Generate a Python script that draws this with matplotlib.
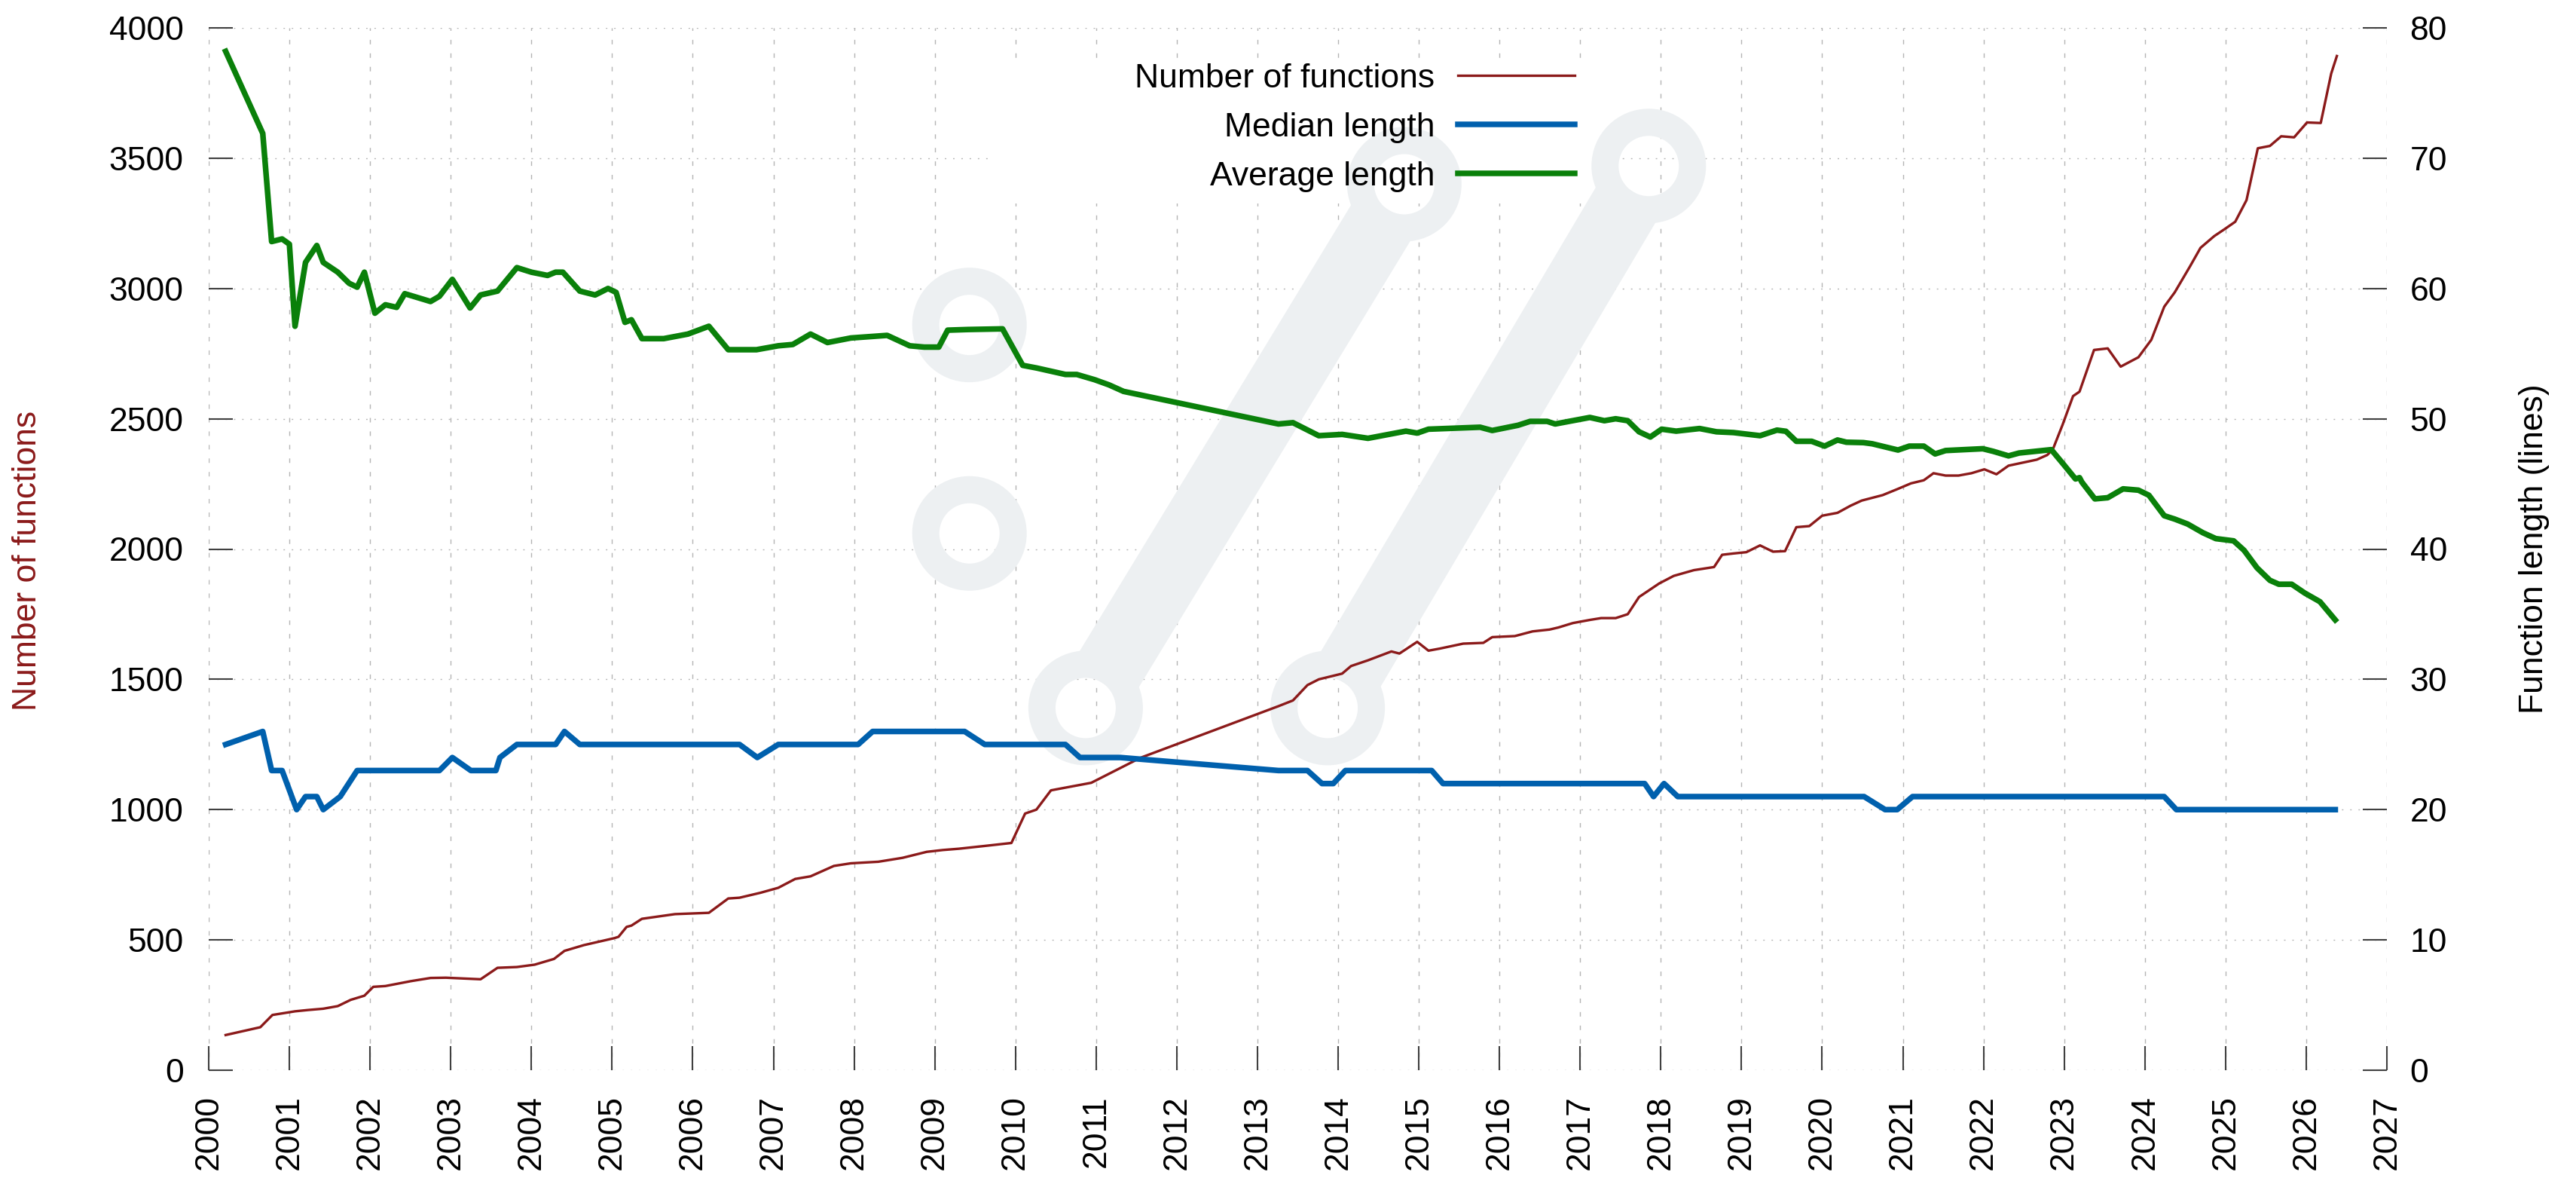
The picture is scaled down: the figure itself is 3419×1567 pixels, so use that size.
import numpy as np
import matplotlib
matplotlib.use("Agg")
import matplotlib.pyplot as plt
from matplotlib.patches import Circle, Rectangle
from matplotlib.lines import Line2D
from matplotlib.transforms import IdentityTransform

plt.rcParams['font.family'] = ['Liberation Sans', 'DejaVu Sans']

# ---------------- data ----------------
years_funcs = [2000.21, 2000.64, 2000.79, 2001.07, 2001.23, 2001.42, 2001.60, 2001.76, 2001.93,
               2002.04, 2002.19, 2002.51, 2002.75, 2002.94, 2003.37, 2003.58, 2003.82, 2004.04,
               2004.28, 2004.41, 2004.65, 2005.03, 2005.08, 2005.18, 2005.24, 2005.37, 2005.78,
               2006.20, 2006.44, 2006.58, 2006.84, 2007.06, 2007.27, 2007.46, 2007.75, 2007.96,
               2008.30, 2008.60, 2008.90, 2009.10, 2009.30, 2009.60, 2009.95, 2010.12, 2010.26,
               2010.44, 2010.94, 2011.55, 2013.26, 2013.44, 2013.62, 2013.76, 2014.05, 2014.16,
               2014.37, 2014.66, 2014.76, 2014.98, 2015.12, 2015.26, 2015.55, 2015.80, 2015.91,
               2016.19, 2016.41, 2016.62, 2016.73, 2016.91, 2017.12, 2017.26, 2017.44, 2017.59,
               2017.73, 2017.98, 2018.16, 2018.41, 2018.66, 2018.76, 2018.90, 2019.06, 2019.23,
               2019.39, 2019.54, 2019.68, 2019.84, 2020.00, 2020.19, 2020.35, 2020.49, 2020.75,
               2020.94, 2021.10, 2021.26, 2021.38, 2021.53, 2021.69, 2021.85, 2022.01, 2022.16,
               2022.31, 2022.66, 2022.79, 2022.86, 2022.98, 2023.11, 2023.19, 2023.37, 2023.54,
               2023.70, 2023.92, 2024.08, 2024.24, 2024.37, 2024.56, 2024.69, 2024.86, 2024.99,
               2025.12, 2025.26, 2025.40, 2025.55, 2025.69, 2025.85, 2026.01, 2026.18, 2026.31,
               2026.38]
num_functions = [135, 165, 212, 226, 231, 236, 246, 270, 286,
                 320, 323, 342, 354, 355, 349, 393, 396, 405,
                 427, 458, 480, 507, 512, 550, 555, 581, 599,
                 604, 659, 662, 681, 700, 734, 744, 784, 794,
                 800, 815, 838, 845, 850, 860, 872, 985, 1000,
                 1074, 1103, 1199, 1397, 1419, 1478, 1500, 1522, 1551,
                 1573, 1607, 1599, 1644, 1610, 1618, 1637, 1640, 1662,
                 1666, 1684, 1691, 1699, 1716, 1728, 1735, 1735, 1750,
                 1816, 1868, 1897, 1919, 1931, 1978, 1983, 1988, 2014,
                 1990, 1992, 2084, 2088, 2128, 2139, 2166, 2186, 2207,
                 2231, 2252, 2264, 2291, 2282, 2282, 2291, 2306, 2287,
                 2320, 2343, 2361, 2383, 2477, 2587, 2604, 2764, 2770,
                 2700, 2736, 2803, 2930, 2985, 3085, 3156, 3201, 3228,
                 3256, 3339, 3538, 3547, 3584, 3580, 3637, 3635, 3825,
                 3892]

years_median = [2000.21, 2000.67, 2000.78, 2000.91, 2001.09, 2001.20, 2001.34, 2001.42, 2001.63,
                2001.84, 2002.86, 2003.02, 2003.25, 2003.56, 2003.61, 2003.82, 2004.30, 2004.41,
                2004.60, 2006.58, 2006.80, 2007.06, 2008.05, 2008.23, 2009.37, 2009.62, 2010.62,
                2010.80, 2011.30, 2013.26, 2013.62, 2013.80, 2013.94, 2014.09, 2015.16, 2015.30,
                2017.80, 2017.91, 2018.04, 2018.21, 2020.52, 2020.78, 2020.93, 2021.12, 2024.24,
                2024.39, 2026.36]
median_length = [25, 26, 23, 23, 20, 21, 21, 20, 21,
                 23, 23, 24, 23, 23, 24, 25, 25, 26,
                 25, 25, 24, 25, 25, 26, 26, 25, 25,
                 24, 24, 23, 23, 22, 22, 23, 23, 22,
                 22, 21, 22, 21, 21, 20, 20, 21, 21,
                 20, 20]

years_average = [2000.21, 2000.67, 2000.78, 2000.91, 2001.00, 2001.07, 2001.20, 2001.34, 2001.42,
                 2001.60, 2001.74, 2001.84, 2001.93, 2002.06, 2002.19, 2002.33, 2002.43, 2002.75,
                 2002.86, 2003.02, 2003.24, 2003.37, 2003.58, 2003.82, 2004.00, 2004.20, 2004.30,
                 2004.39, 2004.60, 2004.79, 2004.95, 2005.05, 2005.16, 2005.24, 2005.37, 2005.64,
                 2005.94, 2006.20, 2006.44, 2006.79, 2007.06, 2007.24, 2007.46, 2007.67, 2007.96,
                 2008.19, 2008.41, 2008.69, 2008.87, 2009.05, 2009.16, 2009.41, 2009.84, 2010.09,
                 2010.26, 2010.62, 2010.76, 2010.98, 2011.16, 2011.34, 2013.26, 2013.44, 2013.76,
                 2014.05, 2014.37, 2014.84, 2014.98, 2015.12, 2015.76, 2015.91, 2016.23, 2016.38,
                 2016.59, 2016.69, 2017.12, 2017.30, 2017.44, 2017.59, 2017.73, 2017.87, 2018.01,
                 2018.19, 2018.48, 2018.69, 2018.90, 2019.23, 2019.44, 2019.55, 2019.68, 2019.87,
                 2020.03, 2020.19, 2020.30, 2020.51, 2020.62, 2020.94, 2021.08, 2021.26, 2021.40,
                 2021.53, 2021.99, 2022.12, 2022.31, 2022.44, 2022.84, 2023.00, 2023.14, 2023.19,
                 2023.22, 2023.38, 2023.54, 2023.73, 2023.92, 2024.05, 2024.24, 2024.37, 2024.53,
                 2024.72, 2024.88, 2025.10, 2025.23, 2025.39, 2025.55, 2025.66, 2025.82, 2025.98,
                 2026.17, 2026.36]
average_length = [78.2, 71.9, 63.6, 63.8, 63.4, 57.1, 62.0, 63.3, 62.0,
                  61.25, 60.4, 60.1, 61.25, 58.1, 58.75, 58.55, 59.6, 59.0,
                  59.4, 60.7, 58.5, 59.5, 59.8, 61.6, 61.25, 61.0, 61.25,
                  61.25, 59.8, 59.5, 60.0, 59.7, 57.4, 57.6, 56.15, 56.15,
                  56.5, 57.1, 55.3, 55.3, 55.6, 55.7, 56.5, 55.85, 56.2,
                  56.3, 56.4, 55.6, 55.5, 55.5, 56.8, 56.85, 56.9, 54.1,
                  53.9, 53.4, 53.4, 53.0, 52.6, 52.1, 49.6, 49.7, 48.7,
                  48.8, 48.5, 49.05, 48.9, 49.2, 49.35, 49.1, 49.5, 49.8,
                  49.8, 49.6, 50.1, 49.85, 50.0, 49.85, 49.0, 48.6, 49.2,
                  49.05, 49.25, 49.0, 48.94, 48.7, 49.13, 49.04, 48.27, 48.27,
                  47.9, 48.37, 48.2, 48.17, 48.08, 47.6, 47.9, 47.9, 47.3,
                  47.56, 47.7, 47.5, 47.15, 47.37, 47.63, 46.44, 45.38, 45.48,
                  45.13, 43.85, 43.94, 44.62, 44.52, 44.13, 42.56, 42.3, 41.92,
                  41.25, 40.8, 40.63, 39.9, 38.56, 37.6, 37.3, 37.3, 36.63,
                  35.96, 34.56]

x_ticks = list(range(2000, 2028))
left_ticks = list(range(0, 4001, 500))
right_ticks = list(range(0, 81, 10))
series_labels = ["Number of functions", "Median length", "Average length"]

# ---------------- style ----------------
RED = '#8b1a1a'
BLUE = '#0060ad'
GREEN = '#0a800a'
WM = '#edf0f2'
GRID = '#b4b4b4'
TICKC = '#404040'
FS = 32

W, H, DPI = 3419, 1567, 100
fig = plt.figure(figsize=(W / DPI, H / DPI), dpi=DPI)
ax = fig.add_axes([277 / W, 1 - 1420 / H, (3168 - 277) / W, (1420 - 37) / H])
ax2 = ax.twinx()

ax.set_xlim(2000, 2027)
ax.set_ylim(0, 4000)
ax2.set_ylim(0, 80)

for a in (ax, ax2):
    for s in a.spines.values():
        s.set_visible(False)
    a.patch.set_visible(False)

ax.set_xticks(x_ticks)
ax.set_xticklabels([str(t) for t in x_ticks], rotation=90, fontsize=FS)
ax.set_yticks(left_ticks)
ax.set_yticklabels([str(t) for t in left_ticks], fontsize=FS)
ax2.set_yticks(right_ticks)
ax2.set_yticklabels([str(t) for t in right_ticks], fontsize=FS)

ax.tick_params(axis='x', direction='in', length=23, width=1.5, color=TICKC, pad=24,
               top=False, bottom=True)
ax.tick_params(axis='y', direction='in', length=23, width=1.5, color=TICKC, pad=24,
               left=True, right=False)
ax2.tick_params(axis='y', direction='in', length=23, width=1.5, color=TICKC, pad=22,
                left=False, right=True)

# grid
for xt in x_ticks:
    ax.axvline(xt, color=GRID, lw=1.0, linestyle=(0, (4.3, 8.6)), zorder=0.5)
for yt in left_ticks:
    ax.axhline(yt, color=GRID, lw=1.0, linestyle=(0, (1.4, 6.5)), zorder=0.5)

# legend background box (opaque key)
ax.add_patch(Rectangle((0.360, 0.8315), 0.276, 0.1395, transform=ax.transAxes,
                       facecolor='white', edgecolor='none', zorder=0.6))

# watermark logo (decoration), anchored in data coordinates, drawn in pixels
ring_centers = [(2009.43, 2860), (2009.43, 2060), (2010.87, 1390),
                (2013.87, 1390), (2014.82, 3400), (2017.85, 3470)]
bars = [(2, 4), (3, 5)]
pix = ax.transData.transform(ring_centers)
r_out, r_in = 76.0, 40.0
bar_w = 92.0
pt = 72.0 / DPI
for i, j in bars:
    p, q = pix[i], pix[j]
    d = q - p
    u = d / np.hypot(*d)
    p2 = p + u * r_in
    q2 = q - u * r_in
    ax.add_line(Line2D([p2[0], q2[0]], [p2[1], q2[1]], transform=IdentityTransform(),
                       color=WM, lw=bar_w * pt, solid_capstyle='butt', zorder=0.7))
for c in pix:
    ax.add_patch(Circle(c, (r_out + r_in) / 2, transform=IdentityTransform(),
                        facecolor='none', edgecolor=WM, lw=(r_out - r_in) * pt, zorder=0.7))

# data lines
l1, = ax.plot(years_funcs, num_functions, color=RED, lw=2.4, zorder=3,
              label=series_labels[0])
l2, = ax2.plot(years_median, median_length, color=BLUE, lw=5.4, zorder=3,
               label=series_labels[1])
l3, = ax2.plot(years_average, average_length, color=GREEN, lw=5.4, zorder=3,
               label=series_labels[2])

ax2.legend([l1, l2, l3], series_labels, loc='upper right', bbox_to_anchor=(0.627, 0.966),
           frameon=False, markerfirst=False, handlelength=3.47, handletextpad=0.7,
           labelspacing=0.54, borderpad=0, borderaxespad=0, fontsize=FS)

fig.text(37 / W, 0.5254, "Number of functions", rotation=90, ha='center', va='center',
         fontsize=FS, color=RED)
fig.text(3364 / W, 0.535, "Function length (lines)", rotation=90, ha='center', va='center',
         fontsize=FS, color='black')

fig.savefig("out.png", dpi=DPI, facecolor='white')
